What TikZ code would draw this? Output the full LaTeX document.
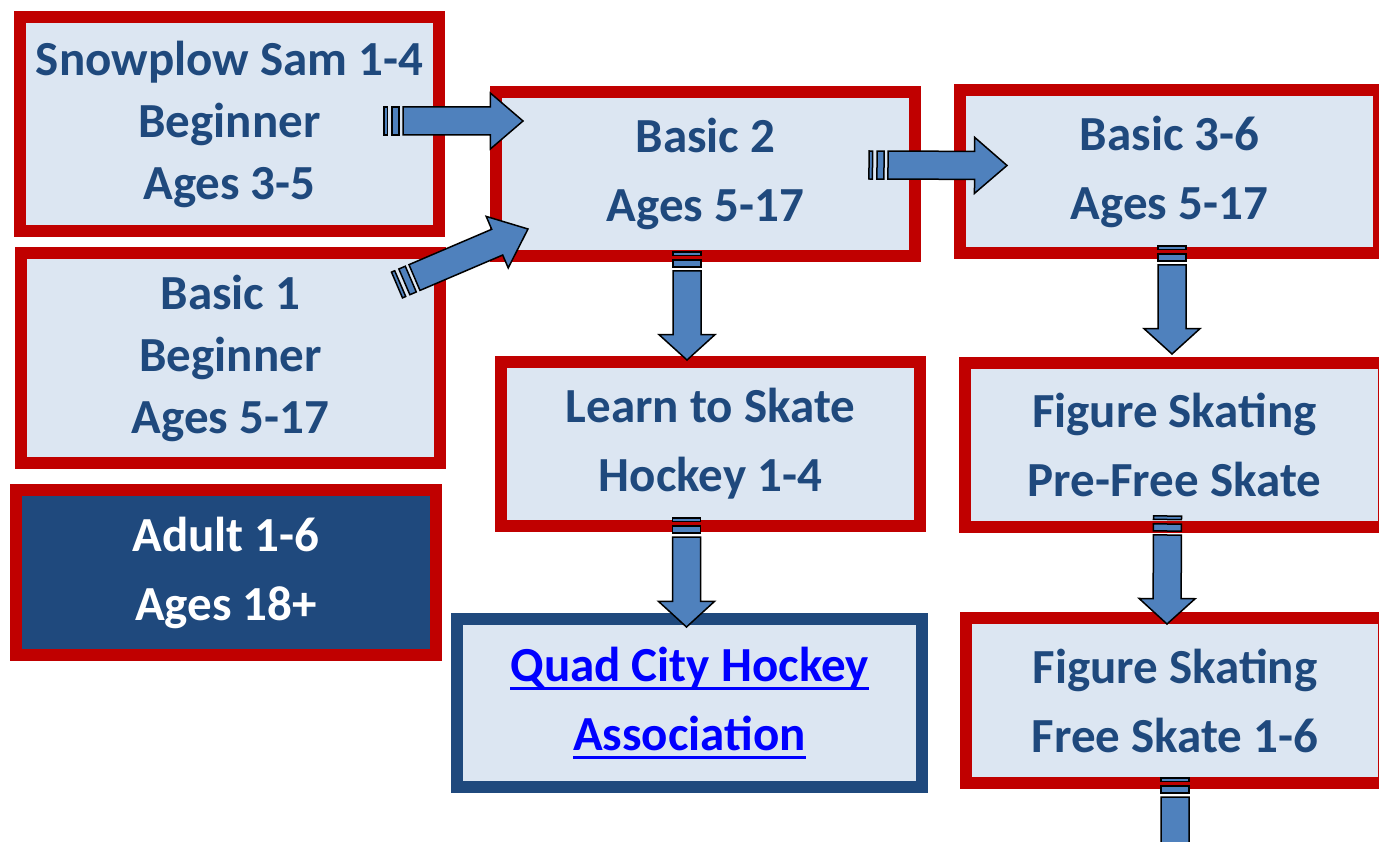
\documentclass[tikz,border=0pt]{standalone}
\usepackage{fontspec}
\setmainfont{Carlito}
\usetikzlibrary{calc}

\definecolor{skatered}{HTML}{C00000}
\definecolor{paleblue}{HTML}{DCE6F2}
\definecolor{navy}{HTML}{1F497D}
\definecolor{arrowblue}{HTML}{4F81BD}
\definecolor{linkblue}{HTML}{0000FF}

\tikzset{
  level/.style={draw=skatered, line width=12pt, fill=paleblue, text=navy,
    align=center, inner sep=0pt, minimum width=419pt, minimum height=164pt,
    font=\fontsize{49}{69}\selectfont\bfseries},
  arrowline/.style={draw=black, line width=1.5pt, fill=arrowblue},
}

\newsavebox{\linkbox}
\newcommand{\linkline}[1]{\sbox{\linkbox}{#1}\rlap{\rule[-9pt]{\wd\linkbox}{3pt}}\usebox{\linkbox}}

% striped block arrow from tail #1 to tip #2
\newcommand{\skatearrow}[2]{%
  \coordinate (ta) at (#1);
  \coordinate (tb) at (#2);
  \draw[arrowline] ($(ta)!0pt!(tb)!14pt!90:(tb)$) -- ($(ta)!3.5pt!(tb)!14pt!90:(tb)$)
    -- ($(ta)!3.5pt!(tb)!14pt!-90:(tb)$) -- ($(ta)!0pt!(tb)!14pt!-90:(tb)$) -- cycle;
  \draw[arrowline] ($(ta)!8pt!(tb)!14pt!90:(tb)$) -- ($(ta)!15pt!(tb)!14pt!90:(tb)$)
    -- ($(ta)!15pt!(tb)!14pt!-90:(tb)$) -- ($(ta)!8pt!(tb)!14pt!-90:(tb)$) -- cycle;
  \draw[arrowline] ($(ta)!19pt!(tb)!14pt!90:(tb)$) -- ($(ta)!0.765!(tb)!14pt!90:(tb)$)
    -- ($(ta)!0.765!(tb)!28pt!90:(tb)$) -- (tb) -- ($(ta)!0.765!(tb)!28pt!-90:(tb)$)
    -- ($(ta)!0.765!(tb)!14pt!-90:(tb)$) -- ($(ta)!19pt!(tb)!14pt!-90:(tb)$) -- cycle;
}

\begin{document}
\begin{tikzpicture}[x=1pt, y=-1pt]
  \useasboundingbox (0,0) rectangle (1379,842);
  \clip (0,0) rectangle (1379,842);

  % left column
  \node[level, minimum height=214pt, font=\fontsize{49}{62}\selectfont\bfseries] (snow) at (229.5,124)
    {Snowplow Sam 1-4\\Beginner\\Ages 3-5};
  \node[level, minimum height=210pt, font=\fontsize{49}{62}\selectfont\bfseries] (basic1) at (230.5,358)
    {Basic 1\\Beginner\\Ages 5-17};
  \node[level, fill=navy, text=white, minimum width=420pt, minimum height=165pt] (adult) at (226,572.5)
    {Adult 1-6\\Ages 18+};

  % middle column
  \node[level] (basic2) at (705.5,174) {Basic 2\\Ages 5-17};
  \node[level] (learn) at (710.5,444) {Learn to Skate\\Hockey 1-4};
  \node[level, draw=navy, text=linkblue, minimum width=465pt, minimum height=168pt] (quad) at (689.5,703)
    {\linkline{Quad City Hockey}\\\linkline{Association}};

  % right column
  \node[level, minimum height=163pt] (basic36) at (1169.5,171.5) {Basic 3-6\\Ages 5-17};
  \node[level] (prefree) at (1174.5,445) {Figure Skating\\Pre-Free Skate};
  \node[level, minimum width=418pt, minimum height=165pt] (free) at (1175,700.5) {Figure Skating\\Free Skate 1-6};

  \coordinate (t1) at ([shift={(-61,-3)}]snow.east);
  \coordinate (h1) at ([shift={(33,35)}]basic2.north west);
  \coordinate (t2) at ([shift={(-49,38)}]basic1.north east);
  \coordinate (h2) at ([shift={(38,-33)}]basic2.south west);
  \coordinate (t3) at ([shift={(-52,-9)}]basic2.east);
  \coordinate (h3) at ([shift={(53,-6)}]basic36.west);
  \coordinate (t4) at ([shift={(-18.5,-10)}]basic2.south);
  \coordinate (h4) at ([shift={(-23.5,4)}]learn.north);
  \coordinate (t5) at ([shift={(2.5,-13)}]basic36.south);
  \coordinate (h5) at ([shift={(-2.5,-3)}]prefree.north);
  \coordinate (t6) at ([shift={(-24,-14)}]learn.south);
  \coordinate (h6) at ([shift={(-3,14)}]quad.north);
  \coordinate (t7) at ([shift={(-7,-17)}]prefree.south);
  \coordinate (h7) at ([shift={(-8,12)}]free.north);
  \coordinate (t8) at ([shift={(0,-11)}]free.south);
  \coordinate (h8) at ([shift={(0,97)}]free.south);

  \skatearrow{t1}{h1}
  \skatearrow{t2}{h2}
  \skatearrow{t3}{h3}
  \skatearrow{t4}{h4}
  \skatearrow{t5}{h5}
  \skatearrow{t6}{h6}
  \skatearrow{t7}{h7}
  \skatearrow{t8}{h8}
\end{tikzpicture}
\end{document}
